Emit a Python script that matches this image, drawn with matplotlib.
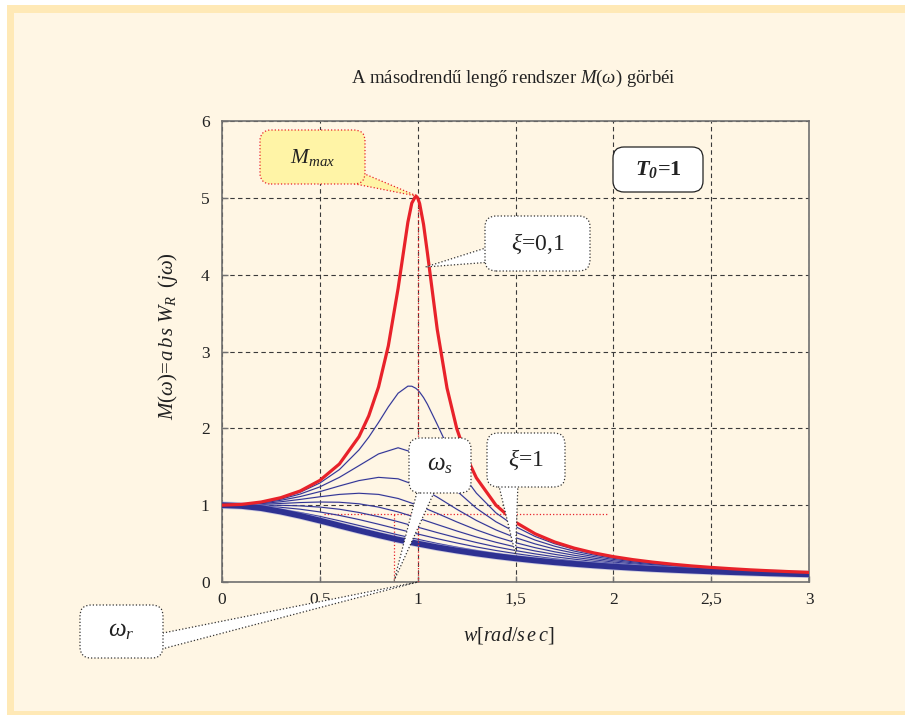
"""A másodrendű lengő rendszer M(w) görbéi (T0 = 1, xi = 0,1 ... 1)."""

import matplotlib

matplotlib.use("Agg")

import matplotlib.pyplot as plt
from matplotlib.patches import FancyBboxPatch, Polygon, Rectangle
from matplotlib.transforms import IdentityTransform


# ── Data ─────────────────────────────────────────────────────────────────────

# sűrűbb rács a rezonancia körül a két kis csillapítású görbéhez
OMEGA_FINE = [
    0.0, 0.1, 0.2, 0.3, 0.4, 0.5, 0.6, 0.7, 0.75, 0.8, 0.85, 0.9, 0.95, 0.97,
    0.99, 1.0, 1.01, 1.03, 1.05, 1.1, 1.15, 1.2, 1.25, 1.3, 1.4, 1.5, 1.6,
    1.7, 1.8, 1.9, 2.0, 2.1, 2.2, 2.3, 2.4, 2.5, 2.6, 2.7, 2.8, 2.9, 3.0,
]
M_XI_01 = [
    1.000, 1.010, 1.041, 1.097, 1.185, 1.322, 1.536, 1.891, 2.162, 2.538,
    3.073, 3.821, 4.683, 4.931, 5.025, 5.000, 4.926, 4.655, 4.279, 3.288,
    2.524, 1.995, 1.625, 1.356, 1.000, 0.778, 0.628, 0.521, 0.441, 0.379,
    0.330, 0.291, 0.259, 0.232, 0.209, 0.190, 0.173, 0.158, 0.146, 0.135,
    0.125,
]
M_XI_02 = [
    1.000, 1.009, 1.038, 1.089, 1.169, 1.288, 1.463, 1.719, 1.885, 2.076,
    2.279, 2.457, 2.549, 2.548, 2.522, 2.500, 2.472, 2.401, 2.313, 2.051,
    1.780, 1.536, 1.329, 1.157, 0.900, 0.721, 0.593, 0.498, 0.425, 0.368,
    0.322, 0.285, 0.254, 0.228, 0.206, 0.187, 0.171, 0.157, 0.144, 0.133,
    0.124,
]

OMEGA = [
    0.0, 0.1, 0.2, 0.3, 0.4, 0.5, 0.6, 0.7, 0.8, 0.9, 1.0, 1.1, 1.2, 1.3,
    1.4, 1.5, 1.6, 1.7, 1.8, 1.9, 2.0, 2.1, 2.2, 2.3, 2.4, 2.5, 2.6, 2.7,
    2.8, 2.9, 3.0,
]
M_XI_03 = [1.000, 1.008, 1.034, 1.078, 1.145, 1.238, 1.362, 1.514, 1.667, 1.747, 1.667,
           1.444, 1.185, 0.960, 0.784, 0.649, 0.546, 0.466, 0.402, 0.351, 0.309,
           0.275, 0.246, 0.222, 0.201, 0.183, 0.168, 0.154, 0.142, 0.131, 0.122]
M_XI_04 = [1.000, 1.007, 1.027, 1.063, 1.112, 1.176, 1.250, 1.320, 1.362, 1.343, 1.250,
           1.105, 0.947, 0.801, 0.678, 0.577, 0.496, 0.429, 0.376, 0.331, 0.294,
           0.263, 0.237, 0.214, 0.195, 0.178, 0.163, 0.150, 0.139, 0.129, 0.120]
M_XI_05 = [1.000, 1.005, 1.020, 1.044, 1.075, 1.109, 1.140, 1.155, 1.140, 1.087, 1.000,
           0.893, 0.782, 0.679, 0.589, 0.512, 0.447, 0.393, 0.348, 0.310, 0.277,
           0.250, 0.226, 0.205, 0.188, 0.172, 0.158, 0.146, 0.135, 0.126, 0.117]
M_XI_06 = [1.000, 1.003, 1.011, 1.022, 1.034, 1.041, 1.038, 1.018, 0.975, 0.912, 0.833,
           0.748, 0.664, 0.586, 0.517, 0.456, 0.404, 0.360, 0.321, 0.289, 0.260,
           0.236, 0.215, 0.196, 0.180, 0.165, 0.153, 0.141, 0.131, 0.122, 0.114]
M_XI_07 = [1.000, 1.000, 1.000, 0.998, 0.991, 0.975, 0.947, 0.905, 0.850, 0.785, 0.714,
           0.643, 0.576, 0.514, 0.458, 0.409, 0.366, 0.329, 0.297, 0.268, 0.244,
           0.222, 0.203, 0.186, 0.172, 0.158, 0.147, 0.136, 0.127, 0.118, 0.111]
M_XI_08 = [1.000, 0.997, 0.988, 0.972, 0.947, 0.912, 0.867, 0.813, 0.752, 0.688, 0.625,
           0.564, 0.508, 0.456, 0.410, 0.370, 0.334, 0.302, 0.274, 0.250, 0.228,
           0.209, 0.192, 0.177, 0.164, 0.152, 0.141, 0.131, 0.122, 0.114, 0.107]
M_XI_09 = [1.000, 0.994, 0.975, 0.945, 0.904, 0.854, 0.797, 0.736, 0.674, 0.613, 0.556,
           0.502, 0.454, 0.410, 0.371, 0.336, 0.305, 0.278, 0.254, 0.232, 0.213,
           0.196, 0.181, 0.168, 0.156, 0.145, 0.135, 0.126, 0.118, 0.110, 0.104]
M_XI_10 = [1.000, 0.990, 0.962, 0.917, 0.862, 0.800, 0.735, 0.671, 0.610, 0.552, 0.500,
           0.452, 0.410, 0.372, 0.338, 0.308, 0.281, 0.257, 0.236, 0.217, 0.200,
           0.185, 0.171, 0.159, 0.148, 0.138, 0.129, 0.121, 0.113, 0.106, 0.100]

X_TICKS = [0, 0.5, 1, 1.5, 2, 2.5, 3]
X_TICK_LABELS = ["0", "0,5", "1", "1,5", "2", "2,5", "3"]
Y_TICKS = [0, 1, 2, 3, 4, 5, 6]
Y_TICK_LABELS = ["0", "1", "2", "3", "4", "5", "6"]

# jellemző pontok (M_max, w_n, w_r jelölés)
OMEGA_N = 1.0
M_MAX = 5.0
OMEGA_R = 0.88
M_LEVEL = 0.89
LEVEL_SPAN = (0.52, 1.97)

# ── Layout & colours ─────────────────────────────────────────────────────────

FIG_W, FIG_H, DPI = 905, 715, 100
AX_LEFT, AX_RIGHT, AX_TOP, AX_BOTTOM = 222, 809, 121, 582  # px, y from top

BAND_COLOR = "#FFE9B6"
INNER_COLOR = "#FFF6E4"
RED = "#E8222A"
BLUE = "#2E3192"
HALO = "#9FA1D8"
GRID = "#3a3a3a"
SPINE = "#707070"


def _disp(x, y):
    """Pixel coordinates (y from top) -> display coordinates."""
    return (x, FIG_H - y)


def _callout(fig, ax, box, text, fontsize, tail=None, tip=None,
             face="white", edge="#333333", ls=":", weight="normal"):
    """Rounded speech bubble with an optional wedge tail pointing to a data point."""
    x0, y0, x1, y1 = box
    if tail is not None:
        tip_disp = ax.transData.transform(tip)
        poly = Polygon(
            [_disp(*tail[0]), _disp(*tail[1]), tuple(tip_disp)], closed=True,
            transform=IdentityTransform(), fc=face, ec=edge, ls=ls, lw=0.9, zorder=5,
        )
        fig.add_artist(poly)
    patch = FancyBboxPatch(
        _disp(x0, y1), x1 - x0, y1 - y0,
        boxstyle="round,pad=0,rounding_size=11",
        transform=IdentityTransform(), fc=face, ec=edge, ls=ls, lw=0.9, zorder=6,
    )
    fig.add_artist(patch)
    fig.text((x0 + x1) / 2 / FIG_W, 1 - (y0 + y1) / 2 / FIG_H, text,
             ha="center", va="center", fontsize=fontsize, weight=weight,
             color="#222222", zorder=7)


def main():
    plt.rcParams["font.family"] = "Liberation Serif"
    plt.rcParams["mathtext.fontset"] = "custom"
    plt.rcParams["mathtext.rm"] = "Liberation Serif"
    plt.rcParams["mathtext.it"] = "Liberation Serif:italic"
    plt.rcParams["mathtext.bf"] = "Liberation Serif:bold:italic"

    fig = plt.figure(figsize=(FIG_W / DPI, FIG_H / DPI), dpi=DPI, facecolor="white")

    # keret
    fig.add_artist(Rectangle(_disp(7, FIG_H), FIG_W, FIG_H - 5,
                             transform=IdentityTransform(), fc=BAND_COLOR, ec="none", zorder=-5))
    fig.add_artist(Rectangle(_disp(14, FIG_H - 4), FIG_W, FIG_H - 4 - 13,
                             transform=IdentityTransform(), fc=INNER_COLOR, ec="none", zorder=-4))

    ax = fig.add_axes([
        AX_LEFT / FIG_W, (FIG_H - AX_BOTTOM) / FIG_H,
        (AX_RIGHT - AX_LEFT) / FIG_W, (AX_BOTTOM - AX_TOP) / FIG_H,
    ])
    ax.set_facecolor(INNER_COLOR)
    ax.set_xlim(0, 3)
    ax.set_ylim(0, 6)

    # ── Görbék ──
    for m in (M_XI_03, M_XI_04, M_XI_05, M_XI_06, M_XI_07, M_XI_08, M_XI_09):
        ax.plot(OMEGA, m, color=HALO, lw=1.3, alpha=0.35, zorder=2)
        ax.plot(OMEGA, m, color=BLUE, lw=0.75, zorder=3)
    ax.plot(OMEGA_FINE, M_XI_02, color=HALO, lw=1.3, alpha=0.35, zorder=2)
    ax.plot(OMEGA_FINE, M_XI_02, color=BLUE, lw=0.75, zorder=3)
    ax.plot(OMEGA, M_XI_10, color=HALO, lw=5.4, alpha=0.55, zorder=4, solid_capstyle="butt")
    ax.plot(OMEGA, M_XI_10, color=BLUE, lw=4.2, zorder=4, solid_capstyle="butt")
    ax.plot(OMEGA_FINE, M_XI_01, color=RED, lw=2.3, zorder=5)

    # segédvonalak
    ax.plot([OMEGA_N, OMEGA_N], [0, M_MAX], color=RED, lw=0.9, ls=":", zorder=6)
    ax.plot(list(LEVEL_SPAN), [M_LEVEL, M_LEVEL], color=RED, lw=0.9, ls=":", zorder=1.5)
    ax.plot([OMEGA_R, OMEGA_R], [0, M_LEVEL], color=RED, lw=0.9, ls=":", zorder=1.5)

    # ── Tengelyek ──
    ax.set_xticks(X_TICKS)
    ax.set_xticklabels(X_TICK_LABELS)
    ax.set_yticks(Y_TICKS)
    ax.set_yticklabels(Y_TICK_LABELS)
    ax.tick_params(direction="in", length=4, width=1, color=SPINE, labelsize=12.5,
                   labelcolor="#222222")
    ax.tick_params(axis="y", pad=9)
    ax.tick_params(axis="x", pad=7)
    ax.set_axisbelow(True)
    ax.grid(True, color=GRID, lw=0.8, ls=(0, (4, 3)))
    for spine in ax.spines.values():
        spine.set_color(SPINE)
        spine.set_linewidth(1.2)

    fig.text(513 / FIG_W, 1 - 78 / FIG_H,
             r"A másodrendű lengő rendszer $\mathit{M(\omega)}$ görbéi",
             ha="center", va="center", fontsize=13.5, color="#222222")
    fig.text(168 / FIG_W, 1 - 336 / FIG_H,
             r"$M(\omega)\!=\!a\,b\,s\;W_R\;\;(j\omega)$",
             ha="center", va="center", rotation=90, fontsize=15, color="#222222")
    fig.text(509 / FIG_W, 1 - 635 / FIG_H, r"$w[rad/s\,e\,c]$",
             ha="center", va="center", fontsize=14.5, color="#222222")

    # ── Szövegbuborékok ──
    _callout(fig, ax, (260, 130, 365, 184), r"$M_{max}$", 15.5,
             tail=((335, 180), (360, 172)), tip=(OMEGA_N, 5.02),
             face="#FFF4A6", edge=RED)
    _callout(fig, ax, (485, 216, 590, 271), r"$\xi$=0,1", 17,
             tail=((492, 246), (492, 262)), tip=(1.04, 4.1))
    _callout(fig, ax, (613, 147, 703, 192), r"$\mathbf{T_0}$=1", 16,
             ls="-", edge="#222222", weight="bold")
    _callout(fig, ax, (409, 438, 471, 493), r"$\omega_s$", 18,
             tail=((418, 488), (436, 488)), tip=(OMEGA_R, 0.02))
    _callout(fig, ax, (487, 433, 565, 487), r"$\xi$=1", 17,
             tail=((498, 482), (518, 482)), tip=(1.5, 0.36))
    _callout(fig, ax, (80, 605, 163, 658), r"$\omega_r$", 18,
             tail=((158, 634), (158, 650)), tip=(OMEGA_N, 0.0))

    fig.savefig("out.png", dpi=DPI, facecolor=fig.get_facecolor())
    plt.close(fig)


if __name__ == "__main__":
    main()
